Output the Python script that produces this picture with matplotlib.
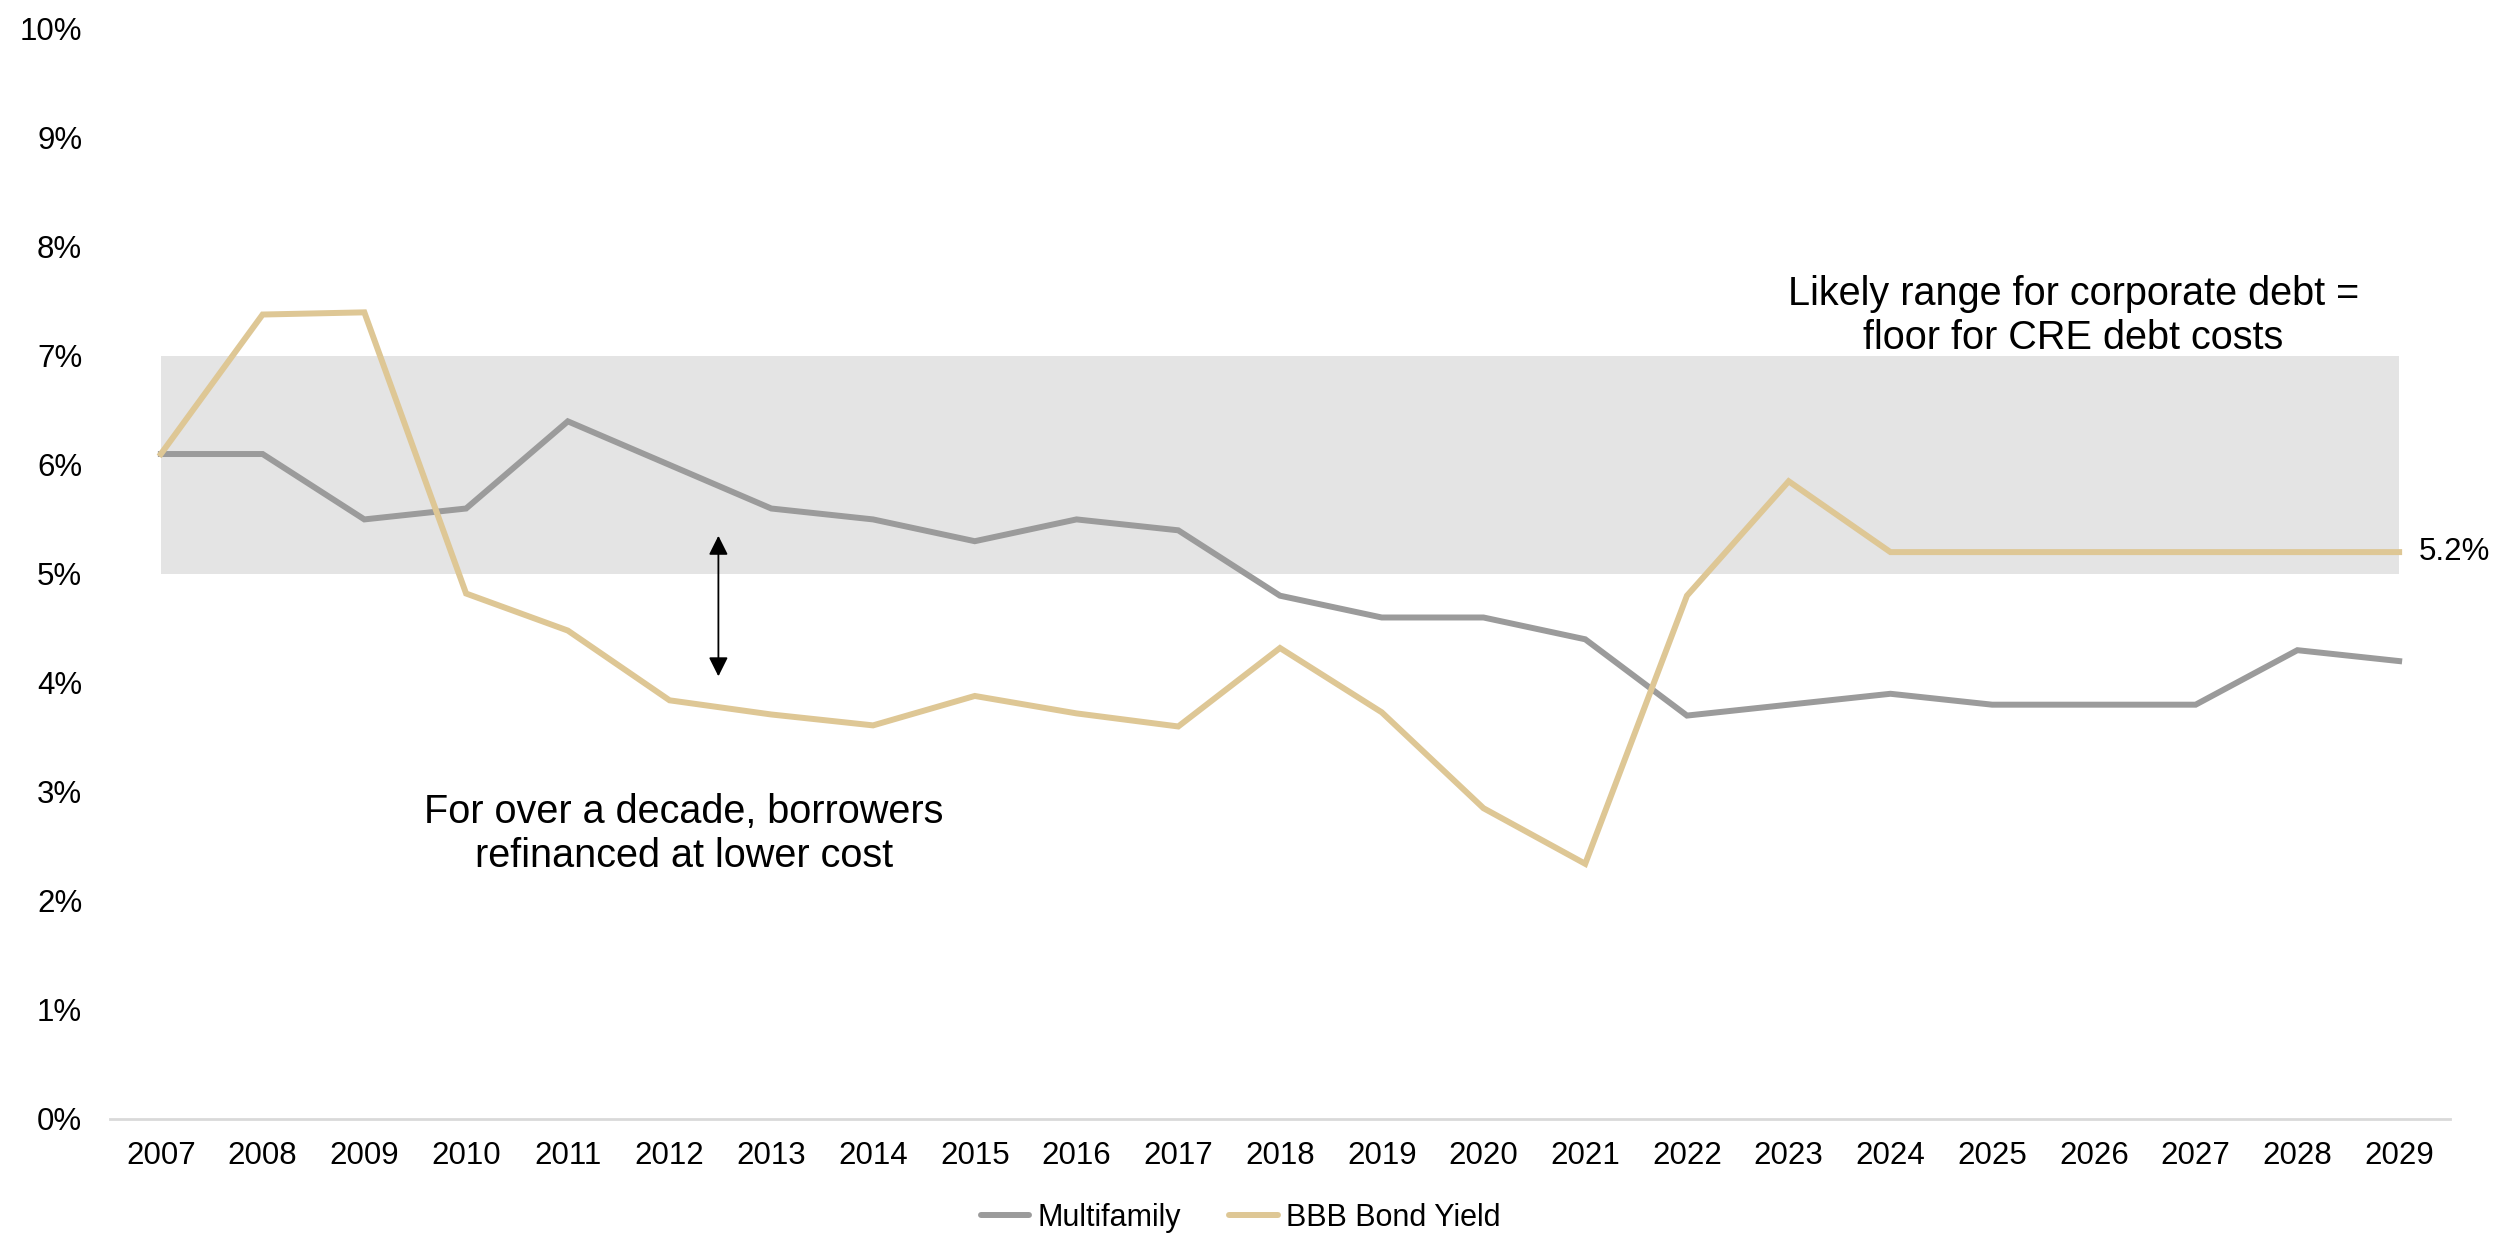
import matplotlib
matplotlib.use("Agg")
import matplotlib.pyplot as plt
from matplotlib.lines import Line2D

plt.rcParams['font.family'] = ['Liberation Sans', 'DejaVu Sans']

# Years on the category axis
years = [2007, 2008, 2009, 2010, 2011, 2012, 2013, 2014, 2015, 2016, 2017, 2018,
         2019, 2020, 2021, 2022, 2023, 2024, 2025, 2026, 2027, 2028, 2029]

# Yields in percent
multifamily = [6.1, 6.1, 5.5, 5.6, 6.4, 6.0, 5.6, 5.5, 5.3, 5.5, 5.4, 4.8,
               4.6, 4.6, 4.4, 3.7, 3.8, 3.9, 3.8, 3.8, 3.8, 4.3, 4.2]
bbb_yield = [6.1, 7.38, 7.4, 4.82, 4.48, 3.84, 3.71, 3.61, 3.88, 3.72, 3.6, 4.32,
             3.73, 2.85, 2.34, 4.8, 5.85, 5.2, 5.2, 5.2, 5.2, 5.2, 5.2]

# Shaded band: likely range for corporate debt
band_low, band_high = 5.0, 7.0

# Gap arrow between the two series (2012-2013)
gap_x, gap_top, gap_bottom = 5.48, 5.35, 4.06

y_ticks = list(range(0, 11))
series_labels = ["Multifamily", "BBB Bond Yield"]

GRAY = "#9B9B9B"
GOLD = "#DEC795"
BAND = "#E4E4E4"
AXIS = "#D9D9D9"
LW = 4.3

W, H = 2517, 1236
fig = plt.figure(figsize=(W / 100, H / 100), dpi=100)
ax = fig.add_axes([110 / W, 1 - 1118.8 / H, (2450 - 110) / W, (1118.8 - 29) / H])

x = list(range(len(years)))

ax.fill_between(x, band_low, band_high, color=BAND, linewidth=0, zorder=1)
ax.plot(x, multifamily, color=GRAY, lw=LW, solid_joinstyle='miter', zorder=3)
ax.plot(x, bbb_yield, color=GOLD, lw=LW, solid_joinstyle='miter', zorder=4)

ax.set_xlim(-0.5, len(years) - 0.5)
ax.set_ylim(0, 10)
ax.set_xticks(x)
ax.set_xticklabels([str(y) for y in years])
ax.set_yticks(y_ticks)
ax.set_yticklabels([f"{t}%" for t in y_ticks])
ax.tick_params(axis='both', length=0, labelsize=22.5, colors='black')
ax.tick_params(axis='x', pad=16)
ax.tick_params(axis='y', pad=20)

for side in ('top', 'right', 'left'):
    ax.spines[side].set_visible(False)
ax.spines['bottom'].set_color(AXIS)
ax.spines['bottom'].set_linewidth(2)

# Double-headed arrow marking the spread
ax.annotate('', xy=(gap_x, gap_top), xytext=(gap_x, gap_bottom),
            arrowprops=dict(arrowstyle='<|-|>,head_length=0.4,head_width=0.2',
                            color='black', lw=1.3, mutation_scale=29,
                            shrinkA=0, shrinkB=0), zorder=5)

ax.text(5.14, 2.61, "For over a decade, borrowers\nrefinanced at lower cost",
        ha='center', va='center', fontsize=28.5, linespacing=1.2)
ax.text(18.8, 7.37, "Likely range for corporate debt =\nfloor for CRE debt costs",
        ha='center', va='center', fontsize=28.5, linespacing=1.2)

# Last-value label for the bond yield
ax.annotate(f"{bbb_yield[-1]:.1f}%", xy=(x[-1], bbb_yield[-1]),
            xytext=(14, 0), textcoords='offset points',
            ha='left', va='center', fontsize=22.5)

handles = [Line2D([], [], color=GRAY, lw=LW, solid_capstyle='round'),
           Line2D([], [], color=GOLD, lw=LW, solid_capstyle='round')]
fig.legend(handles, series_labels, loc='center',
           bbox_to_anchor=(1240.5 / W, 1 - 1218 / H), ncol=2, frameon=False,
           fontsize=22, handlelength=1.6, handletextpad=0.25,
           columnspacing=1.6)

fig.savefig("out.png", dpi=100)
